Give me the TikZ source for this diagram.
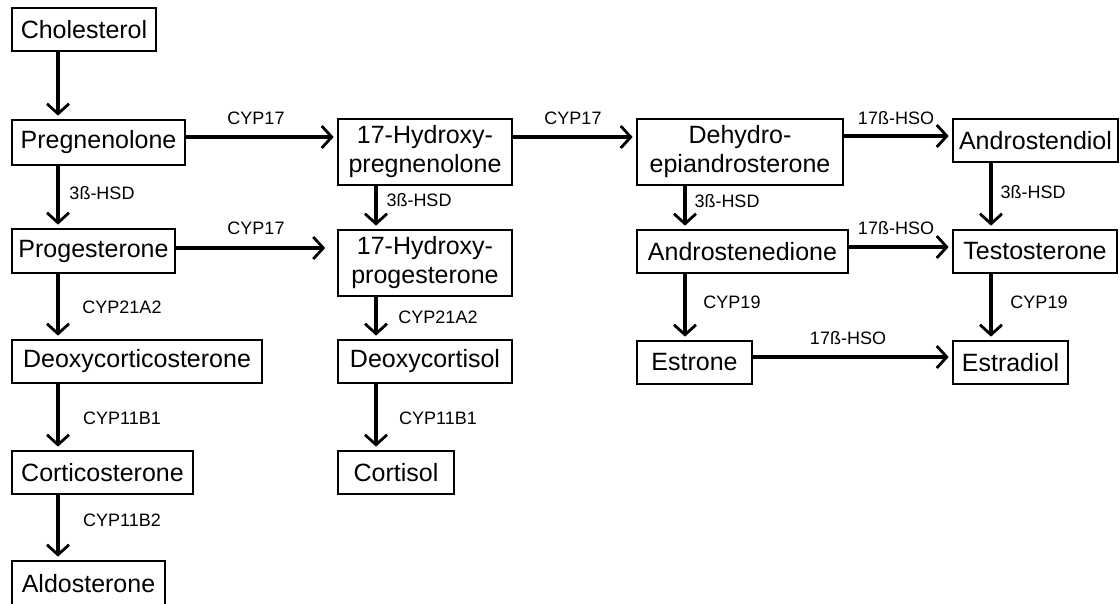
\documentclass[tikz,border=0pt]{standalone}
\usepackage{fontspec}
\setmainfont{Liberation Sans}
\usetikzlibrary{arrows.meta}
\begin{document}
\begin{tikzpicture}[x=1pt,y=-1pt,
  box/.style={draw=black, line width=1.7pt, inner sep=0pt, align=center,
    font=\fontsize{25}{29}\selectfont},
  lab/.style={inner sep=0pt, font=\fontsize{18}{20}\selectfont},
  arr/.style={line width=3.1pt, shorten >=3.5pt,
    -{Straight Barb[length=10pt,width=22pt,line width=2.8pt]}}]
\clip (0,0) rectangle (1120,603);
\fill[white] (0,0) rectangle (1120,603);
% boxes
\node[box, minimum width=144pt, minimum height=43pt] (chol) at (84,29.5) {Cholesterol};
\node[box, minimum width=173pt, minimum height=45pt] (preg) at (98.5,142.5) {Pregnenolone};
\node[box, minimum width=163pt, minimum height=44pt] (prog) at (93.5,251) {Progesterone};
\node[box, minimum width=250pt, minimum height=43pt] (doc) at (137,361.5) {Deoxycorticosterone};
\node[box, minimum width=181pt, minimum height=43pt] (cort) at (102.5,472.5) {Corticosterone};
\node[box, minimum width=153pt, minimum height=45pt] (aldo) at (88.5,583.5) {Aldosterone};
\node[box, minimum width=174pt, minimum height=66pt] (ohpreg) at (425,152) {17-Hydroxy-\\pregnenolone};
\node[box, minimum width=174pt, minimum height=66pt] (ohprog) at (425,263) {17-Hydroxy-\\progesterone};
\node[box, minimum width=174pt, minimum height=43pt] (dcol) at (425,361.5) {Deoxycortisol};
\node[box, minimum width=116pt, minimum height=43pt] (cortisol) at (396,472.5) {Cortisol};
\node[box, minimum width=206pt, minimum height=66pt] (dhea) at (740,152) {Dehydro-\\epiandrosterone};
\node[box, minimum width=165pt, minimum height=43pt] (adiol) at (1035.5,140.5) {Androstendiol};
\node[box, minimum width=211pt, minimum height=43pt] (adione) at (742.5,251.5) {Androstenedione};
\node[box, minimum width=164pt, minimum height=43pt] (testo) at (1035,251.5) {Testosterone};
\node[box, minimum width=115pt, minimum height=43pt] (estrone) at (694.5,362.5) {Estrone};
\node[box, minimum width=115pt, minimum height=43pt] (estradiol) at (1010.5,362.5) {Estradiol};
% vertical arrows, left column
\draw[arr] (chol.south -| 58,0) -- (preg.north -| 58,0);
\draw[arr] (preg.south -| 58,0) -- (prog.north -| 58,0);
\draw[arr] (prog.south -| 58,0) -- (doc.north -| 58,0);
\draw[arr] (doc.south -| 58,0) -- (cort.north -| 58,0);
\draw[arr] (cort.south -| 58,0) -- (aldo.north -| 58,0);
% middle column
\draw[arr] (ohpreg.south -| 376,0) -- (ohprog.north -| 376,0);
\draw[arr] (ohprog.south -| 376,0) -- (dcol.north -| 376,0);
\draw[arr] (dcol.south -| 376,0) -- (cortisol.north -| 376,0);
% right columns
\draw[arr] (dhea.south -| 685,0) -- (adione.north -| 685,0);
\draw[arr] (adione.south -| 685,0) -- (estrone.north -| 685,0);
\draw[arr] (adiol.south -| 991,0) -- (testo.north -| 991,0);
\draw[arr] (testo.south -| 991,0) -- (estradiol.north -| 991,0);
% horizontal arrows
\draw[arr] (preg.east |- 0,137) -- (ohpreg.west |- 0,137);
\draw[arr, shorten >=12pt] (prog.east |- 0,248) -- (ohprog.west |- 0,248);
\draw[arr] (ohpreg.east |- 0,137) -- (dhea.west |- 0,137);
\draw[arr] (dhea.east |- 0,136) -- (adiol.west |- 0,136);
\draw[arr] (adione.east |- 0,247) -- (testo.west |- 0,247);
\draw[arr] (estrone.east |- 0,357) -- (estradiol.west |- 0,357);
% labels
\node[lab] (l1) at (102,193) {3ß-HSD};
\node[lab] (l2) at (256,118) {CYP17};
\node[lab] (l3) at (256,228) {CYP17};
\node[lab] (l4) at (122,307) {CYP21A2};
\node[lab] (l5) at (122,418) {CYP11B1};
\node[lab] (l6) at (122,520) {CYP11B2};
\node[lab] (l7) at (419,200) {3ß-HSD};
\node[lab] (l8) at (438,317) {CYP21A2};
\node[lab] (l9) at (438,418) {CYP11B1};
\node[lab] (l10) at (573,118) {CYP17};
\node[lab] (l11) at (727,201) {3ß-HSD};
\node[lab] (l12) at (896,118) {17ß-HSO};
\node[lab] (l13) at (896,228) {17ß-HSO};
\node[lab] (l14) at (848,338) {17ß-HSO};
\node[lab] (l15) at (1033,192) {3ß-HSD};
\node[lab] (l16) at (732,302) {CYP19};
\node[lab] (l17) at (1039,302) {CYP19};
\end{tikzpicture}
\end{document}
